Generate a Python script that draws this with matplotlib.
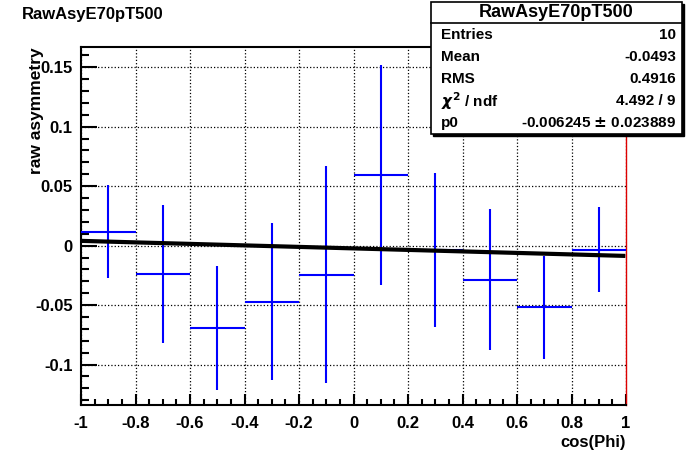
import matplotlib
matplotlib.use("Agg")
from matplotlib import pyplot as plt
from matplotlib.patches import Rectangle
from matplotlib.ticker import MultipleLocator, FuncFormatter

plt.rcParams['font.family'] = ['Liberation Sans', 'DejaVu Sans']
plt.rcParams['font.weight'] = 'bold'
plt.rcParams['mathtext.fontset'] = 'dejavusans'

# bin centres, contents and errors
cos_phi = [-0.9, -0.7, -0.5, -0.3, -0.1, 0.1, 0.3, 0.5, 0.7, 0.9]
asym = [0.0118, -0.0235, -0.069, -0.047, -0.0244, 0.0597, -0.0038, -0.0286, -0.052, -0.0034]
asym_err = [0.039, 0.058, 0.052, 0.066, 0.091, 0.0925, 0.065, 0.059, 0.043, 0.036]
bin_half = [0.1] * 10

# fit line ends
fit_x = [-1.0, 0.99]
fit_y = [0.0040, -0.0086]

stats_names = ["Entries", "Mean", "RMS", r"$\chi^{2}$ / ndf", "p0"]
stats_vals = ["10", "-0.0493", "0.4916", "4.492 / 9", "-0.006245 $\\pm$ 0.023889"]

W, H = 696, 474
fig = plt.figure(figsize=(W / 100, H / 100), dpi=100)
ax = fig.add_axes([81 / W, (H - 405) / H, (626 - 81) / W, (405 - 47) / H])

ax.errorbar(cos_phi, asym, yerr=asym_err, xerr=bin_half, fmt='none',
            ecolor='#0000ff', elinewidth=1.5, capsize=0, zorder=3)
ax.plot(fit_x, fit_y, color='black', lw=3, zorder=4)

ax.set_xlim(-1, 1)
ax.set_ylim(-0.134, 0.167)
ax.xaxis.set_major_locator(MultipleLocator(0.2))
ax.xaxis.set_minor_locator(MultipleLocator(0.05))
ax.yaxis.set_major_locator(MultipleLocator(0.05))
ax.yaxis.set_minor_locator(MultipleLocator(0.01))
fmt = FuncFormatter(lambda v, pos: f"{round(v, 3):g}" if abs(v) > 1e-9 else "0")
ax.xaxis.set_major_formatter(fmt)
ax.yaxis.set_major_formatter(fmt)
ax.grid(True, which='major', color='black', linestyle=':', linewidth=0.9)

ax.tick_params(axis='x', which='major', direction='in', length=8, width=1.5,
               labelsize=12, pad=8, top=False)
ax.tick_params(axis='x', which='minor', direction='in', length=4, width=1.5, top=False)
ax.tick_params(axis='y', which='major', direction='in', length=11.5, width=1.5,
               labelsize=12, pad=6, right=False)
ax.tick_params(axis='y', which='minor', direction='in', length=6, width=1.5, right=False)

for s in ax.spines.values():
    s.set_linewidth(1.5)
ax.spines['right'].set_color('#dd0000')
ax.spines['right'].set_linewidth(1.0)

fig.text(22 / W, 1 - 14 / H, "RawAsyE70pT500", fontsize=12, fontweight='bold',
         ha='left', va='center')
fig.text(626 / W, 1 - 443 / H, "cos(Phi)", fontsize=12, fontweight='bold',
         ha='right', va='center')
fig.text(36 / W, 1 - 47 / H, "raw asymmetry", fontsize=12.5, fontweight='bold',
         rotation=90, ha='center', va='top')

# stats box
bx0, bx1, by0, by1 = 431, 682, 2, 134
fig.patches.append(Rectangle(((bx0 + 2) / W, 1 - (by1 + 2) / H), (bx1 - bx0) / W,
                             (by1 - by0) / H, transform=fig.transFigure,
                             facecolor='black', edgecolor='black', zorder=10))
fig.patches.append(Rectangle((bx0 / W, 1 - by1 / H), (bx1 - bx0) / W,
                             (by1 - by0) / H, transform=fig.transFigure,
                             facecolor='white', edgecolor='black', lw=1.2, zorder=11))
fig.lines.append(plt.Line2D([bx0 / W, bx1 / W], [1 - 23 / H, 1 - 23 / H],
                            transform=fig.transFigure, color='black', lw=1.2, zorder=12))
fig.text((bx0 + bx1) / 2 / W, 1 - 12.5 / H, "RawAsyE70pT500", fontsize=13,
         fontweight='bold', ha='center', va='center', zorder=13)
row_y = [35, 57, 79, 101, 123]
for name, val, yy in zip(stats_names, stats_vals, row_y):
    fig.text(441 / W, 1 - yy / H, name, fontsize=11, fontweight='bold',
             ha='left', va='center', zorder=13)
    fig.text(676 / W, 1 - yy / H, val, fontsize=11, fontweight='bold',
             ha='right', va='center', zorder=13)

fig.savefig("out.png", dpi=100)
